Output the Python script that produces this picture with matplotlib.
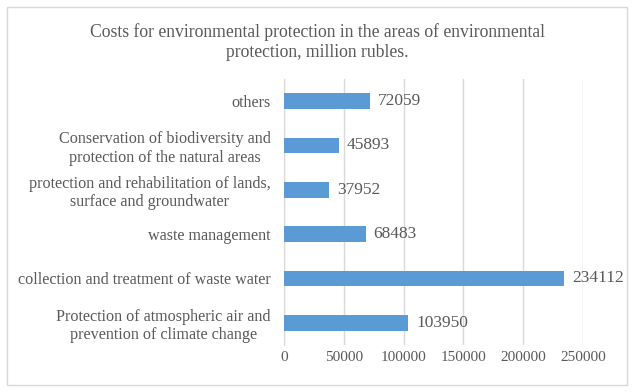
import matplotlib
matplotlib.use("Agg")
import matplotlib.pyplot as plt
from matplotlib.patches import Rectangle

categories = [
    "Protection of atmospheric air and\nprevention of climate change",
    "collection and treatment of waste water",
    "waste management",
    "protection and rehabilitation of lands,\nsurface and groundwater",
    "Conservation of biodiversity and\nprotection of the natural areas",
    "others",
]
values = [103950, 234112, 68483, 37952, 45893, 72059]
xticks = [0, 50000, 100000, 150000, 200000, 250000]

plt.rcParams["font.family"] = ["Liberation Serif", "DejaVu Serif"]
txt = "#595959"

fig = plt.figure(figsize=(6.35, 3.92), dpi=100)
ax = fig.add_axes([284 / 635, 1 - 345 / 392, (583 - 284) / 635, (345 - 79) / 392])

# outer chart border
fig.patches.append(Rectangle((7 / 635, 7 / 392), 620 / 635, 378 / 392,
                             transform=fig.transFigure, fill=False,
                             edgecolor="#D9D9D9", linewidth=1))

ypos = list(range(len(categories)))
ax.barh(ypos, values, height=0.36, color="#5B9BD5", zorder=3)

for y, v in zip(ypos, values):
    ax.text(v + 6500, y, str(v), va="center", ha="left", fontsize=12.5, color=txt)

ax.set_xlim(0, 250000)
ax.set_ylim(-0.5, len(categories) - 0.5)
ax.set_xticks(xticks)
ax.set_xticklabels([str(t) for t in xticks], fontsize=11, color=txt)
ax.set_yticks(ypos)
ax.set_yticklabels(categories, fontsize=11.6, color=txt, ha="right",
                   multialignment="center")
ax.tick_params(axis="y", length=0, pad=9.5)
ax.tick_params(axis="x", length=0, pad=4)
ax.grid(axis="x", color="#D9D9D9", linewidth=1, zorder=0)
for s in ["top", "right", "bottom"]:
    ax.spines[s].set_visible(False)
ax.spines["left"].set_color("#D9D9D9")

fig.text(0.5, 1 - 42 / 392,
         "Costs for environmental protection in the areas of environmental\nprotection, million rubles.",
         ha="center", va="center", fontsize=12.7, color=txt, linespacing=1.25)

fig.savefig("out.png", dpi=100)
